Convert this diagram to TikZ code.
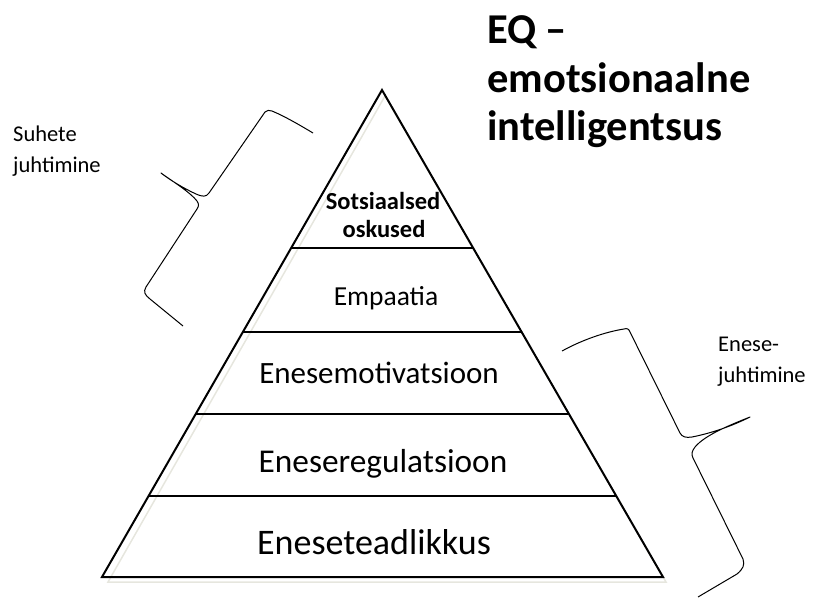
\documentclass[tikz,border=0pt]{standalone}
\usepackage{fontspec}
\setmainfont{Carlito}
\usetikzlibrary{calc}
\begin{document}
\begin{tikzpicture}[x=1pt,y=-1pt,
  tri/.style={draw=black,line width=2pt,line join=miter},
  shadowtri/.style={draw={rgb,255:red,230;green,230;blue,222},line width=1.5pt},
  layer/.style={draw=black,line width=1.4pt},
  brace/.style={draw=black,line width=1pt,line join=round},
  txt/.style={inner sep=0pt,anchor=base},
  lbl/.style={inner sep=0pt,anchor=base west,font=\fontsize{22.5}{26}\selectfont},
  ttl/.style={inner sep=0pt,anchor=base west,font=\fontsize{42.5}{48}\selectfont\bfseries}]
\useasboundingbox (0,0) rectangle (814,600);
% triangle
\coordinate (L) at (102,577);
\coordinate (A) at (382,90);
\coordinate (R) at (663,577);
\draw[shadowtri] ($(L)+(6,5)$) -- ($(A)+(3,6)$) -- ($(R)+(3,5)$) -- cycle;
\draw[tri] (L) -- (A) -- (R) -- cycle;
% layer lines
\foreach \t/\n in {0.6756/a,0.5031/b,0.3347/c,0.1663/d}{
  \coordinate (l\n) at ($(L)!\t!(A)$);
  \coordinate (r\n) at ($(R)!\t!(A)$);
  \draw[layer] (l\n) -- (r\n);
}
% layer texts
\node[txt,font=\fontsize{24.5}{28}\selectfont\bfseries] (s1) at (383,209) {Sotsiaalsed};
\node[txt,font=\fontsize{24.5}{28}\selectfont\bfseries] (s2) at (384,237) {oskused};
\node[txt,font=\fontsize{27.5}{30}\selectfont] (emp) at (386,305) {Empaatia};
\node[txt,font=\fontsize{31}{36}\selectfont] (mot) at (379,383) {Enesemotivatsioon};
\node[txt,font=\fontsize{33.3}{36}\selectfont] (reg) at (383,472) {Eneseregulatsioon};
\node[txt,font=\fontsize{36}{40}\selectfont] (tea) at (374,554) {Eneseteadlikkus};
% title
\node[ttl] (t1) at (487,43) {EQ –};
\node[ttl] (t2) at (487,92) {emotsionaalne};
\node[ttl] (t3) at (487,140) {intelligentsus};
% side labels
\node[lbl] (sl1) at (13,141) {Suhete};
\node[lbl] (sl2) at (13,172) {juhtimine};
\node[lbl] (el1) at (718,351) {Enese-};
\node[lbl] (el2) at (718,382) {juhtimine};
% left brace
\draw[brace] (313,133) .. controls (298,124) and (284,116) .. (272,111)
  .. controls (269,110) and (267,110) .. (265,112)
  -- (209,193)
  .. controls (206,197) and (203,197) .. (196,194)
  .. controls (183,188) and (170,180) .. (161,173)
  .. controls (172,181) and (190,192) .. (197,201)
  .. controls (199,204) and (199,206) .. (197,209)
  -- (146,287)
  .. controls (143,292) and (145,295) .. (150,299)
  -- (183,326);
% right brace
\draw[brace] (562,351) .. controls (582,340) and (605,332) .. (624,329)
  .. controls (627,328) and (629,329) .. (630,332)
  -- (680,433)
  .. controls (682,437) and (686,438) .. (692,437)
  .. controls (712,433) and (732,426) .. (750,417)
  .. controls (730,425) and (705,435) .. (695,447)
  .. controls (692,451) and (691,454) .. (693,458)
  -- (743,559)
  .. controls (745,565) and (743,569) .. (737,574)
  -- (698,597);
\end{tikzpicture}
\end{document}
